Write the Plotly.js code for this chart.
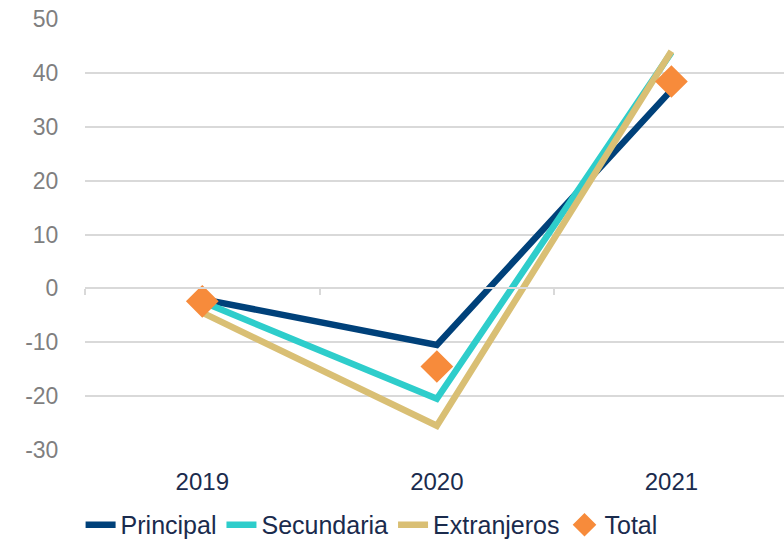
<!DOCTYPE html>
<html>
<head>
<meta charset="utf-8">
<script src="https://cdn.plot.ly/plotly-3.0.1.min.js"></script>
<style>html,body{margin:0;padding:0;background:#fff}#chart{width:784px;height:539px}</style>
</head>
<body>
<div id="chart"></div>
<script>
const years = ['2019', '2020', '2021'];
const principal = [-2.0, -10.5, 36.8];
const secundaria = [-2.5, -20.5, 43.8];
const extranjeros = [-4.5, -25.5, 44.0];
const total = [-2.4, -14.5, 38.4];
const yTicks = [-30, -20, -10, 0, 10, 20, 30, 40, 50];
const yTickText = ['-30', '-20', '-10', '0', '10', '20', '30', '40', '50'];

const lineStyle = (c) => ({color: c, width: 6.5});
const traces = [
  {x: [0], y: [0], xaxis: 'x2', yaxis: 'y', type: 'scatter', mode: 'markers',
   marker: {opacity: 0}, showlegend: false, hoverinfo: 'skip'},
  {x: years, y: principal, name: 'Principal', type: 'scatter', mode: 'lines', line: lineStyle('#00417a')},
  {x: years, y: secundaria, name: 'Secundaria', type: 'scatter', mode: 'lines', line: lineStyle('#2ecdcb')},
  {x: years, y: extranjeros, name: 'Extranjeros', type: 'scatter', mode: 'lines', line: lineStyle('#d9bf74')},
  {x: years, y: total, name: 'Total', type: 'scatter', mode: 'markers',
   marker: {symbol: 'diamond', size: 23, color: '#f78b3b', line: {color: '#f78b3b', width: 2}}}
];

const layout = {
  width: 784, height: 539,
  margin: {l: 85, r: 0, t: 19, b: 89, autoexpand: false},
  paper_bgcolor: '#fff', plot_bgcolor: '#fff',
  font: {family: 'Liberation Sans, Arial, sans-serif', size: 22, color: '#7f7f7f'},
  showlegend: true,
  legend: {orientation: 'h', x: 0.41, xanchor: 'center', y: -0.174, yanchor: 'middle',
           font: {size: 25, color: '#1a2b4d'}, itemwidth: 30, tracegroupgap: 0},
  xaxis: {type: 'category', categoryorder: 'array', categoryarray: years,
          range: [-0.5, 2.48], showgrid: false, zeroline: false, showline: false,
          ticks: 'outside', ticklen: 10, tickcolor: 'rgba(0,0,0,0)', automargin: false,
          tickfont: {size: 24, color: '#1a2b4d'}, fixedrange: true},
  xaxis2: {overlaying: 'x', anchor: 'free', position: 0.375, type: 'linear',
           range: [-0.5, 2.48], showgrid: false, zeroline: false, showline: true,
           linecolor: '#d9d9d9', linewidth: 2, ticks: 'outside', ticklen: 6,
           tickcolor: '#d9d9d9', tickwidth: 2, tickmode: 'array', automargin: false,
           tickvals: [-0.5, 0.5, 1.5, 2.5], showticklabels: false},
  yaxis: {range: [-30, 50], tickmode: 'array', tickvals: yTicks, ticktext: yTickText,
          showgrid: true, gridcolor: '#d9d9d9', gridwidth: 2, zeroline: false, automargin: false,
          showline: false, ticks: 'outside', ticklen: 21, tickcolor: 'rgba(0,0,0,0)',
          tickfont: {size: 23, color: '#7f7f7f'}}
};

Plotly.newPlot('chart', traces, layout, {displayModeBar: false, staticPlot: true});
</script>
</body>
</html>
